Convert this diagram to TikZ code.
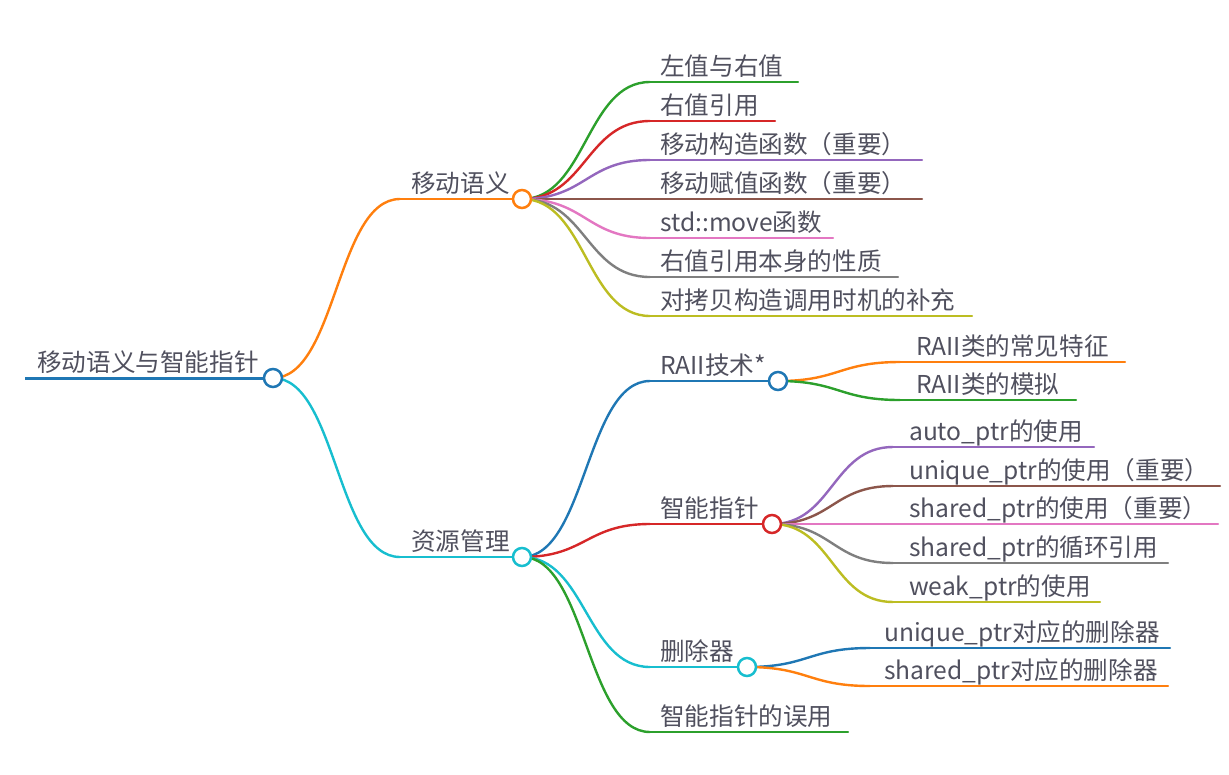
\documentclass[tikz,border=0pt]{standalone}
\usepackage{fontspec}
\setmainfont{Noto Sans CJK SC}
\usetikzlibrary{calc}
\definecolor{cblue}{HTML}{1F77B4}
\definecolor{corange}{HTML}{FF7F0E}
\definecolor{cgreen}{HTML}{2CA02C}
\definecolor{cred}{HTML}{D62728}
\definecolor{cpurple}{HTML}{9467BD}
\definecolor{cbrown}{HTML}{8C564B}
\definecolor{cpink}{HTML}{E377C2}
\definecolor{cgray}{HTML}{7F7F7F}
\definecolor{colive}{HTML}{BCBD22}
\definecolor{ccyan}{HTML}{17BECF}
\definecolor{txt}{HTML}{50505E}
\tikzset{
  lbl/.style={anchor=base west, inner sep=0pt, text=txt, font=\fontsize{24.6}{24.6}\selectfont},
  edge/.style={line width=2.4pt, line cap=round},
  dot/.style={circle, draw, fill=white, line width=2.5pt, minimum size=18pt, inner sep=0pt},
}
\newcommand\mmlink[3]{\draw[edge,#3] let \p1=(#1), \p2=(#2) in (\p1) .. controls ({0.5*\x1+0.5*\x2},\y1) and ({0.5*\x1+0.5*\x2},\y2) .. (\p2);}
% name, parent, xstart, xend, y, color, dx, text
\newcommand\mmitem[8]{%
  \coordinate (#1-s) at (#3,#5);
  \coordinate (#1-e) at (#4,#5);
  \mmlink{#2-e}{#1-s}{#6}
  \draw[edge,#6] (#1-s) -- (#1-e);
  \node[lbl] (#1) at ({#3+#7},{#5-7}) {#8};
}
\begin{document}
\begin{tikzpicture}[x=1pt,y=-1pt]
\useasboundingbox (0,0) rectangle (1229,774);
% root
\coordinate (root-s) at (25,378);
\coordinate (root-e) at (273,378);
\draw[line width=3pt, cblue] (root-s) -- (root-e);
\node[lbl] (root) at (37,371) {移动语义与智能指针};
% level 1
\mmitem{mv}{root}{400}{522}{199}{corange}{11}{移动语义}
\mmitem{rs}{root}{400}{522}{557}{ccyan}{11}{资源管理}
% children of 移动语义
\mmitem{a1}{mv}{650}{798}{82}{cgreen}{10}{左值与右值}
\mmitem{a2}{mv}{650}{775}{121}{cred}{10}{右值引用}
\mmitem{a3}{mv}{650}{922}{160}{cpurple}{10}{移动构造函数（重要）}
\mmitem{a4}{mv}{650}{922}{199}{cbrown}{10}{移动赋值函数（重要）}
\mmitem{a5}{mv}{650}{833}{238}{cpink}{10}{std::move函数}
\mmitem{a6}{mv}{650}{898}{277}{cgray}{10}{右值引用本身的性质}
\mmitem{a7}{mv}{650}{972}{316}{colive}{10}{对拷贝构造调用时机的补充}
% children of 资源管理
\mmitem{raii}{rs}{650}{778}{381}{cblue}{10}{RAII技术*}
\mmitem{sp}{rs}{650}{772}{524}{cred}{10}{智能指针}
\mmitem{del}{rs}{650}{747}{667}{ccyan}{10}{删除器}
\mmitem{mis}{rs}{650}{848}{732}{cgreen}{10}{智能指针的误用}
% children of RAII
\mmitem{r1}{raii}{900}{1125}{362}{corange}{16}{RAII类的常见特征}
\mmitem{r2}{raii}{900}{1076}{400}{cgreen}{16}{RAII类的模拟}
% children of 智能指针
\mmitem{p1}{sp}{893}{1094}{447}{cpurple}{16}{auto\_ptr的使用}
\mmitem{p2}{sp}{893}{1220}{486}{cbrown}{16}{unique\_ptr的使用（重要）}
\mmitem{p3}{sp}{893}{1218}{524}{cpink}{16}{shared\_ptr的使用（重要）}
\mmitem{p4}{sp}{893}{1168}{563}{cgray}{16}{shared\_ptr的循环引用}
\mmitem{p5}{sp}{893}{1100}{602}{colive}{16}{weak\_ptr的使用}
% children of 删除器
\mmitem{d1}{del}{870}{1170}{648}{cblue}{14}{unique\_ptr对应的删除器}
\mmitem{d2}{del}{870}{1168}{686}{corange}{14}{shared\_ptr对应的删除器}
% circles
\node[dot, draw=cblue] (root-c) at (root-e) {};
\node[dot, draw=corange] (mv-c) at (mv-e) {};
\node[dot, draw=ccyan] (rs-c) at (rs-e) {};
\node[dot, draw=cblue] (raii-c) at (raii-e) {};
\node[dot, draw=cred] (sp-c) at (sp-e) {};
\node[dot, draw=ccyan] (del-c) at (del-e) {};
\end{tikzpicture}
\end{document}
